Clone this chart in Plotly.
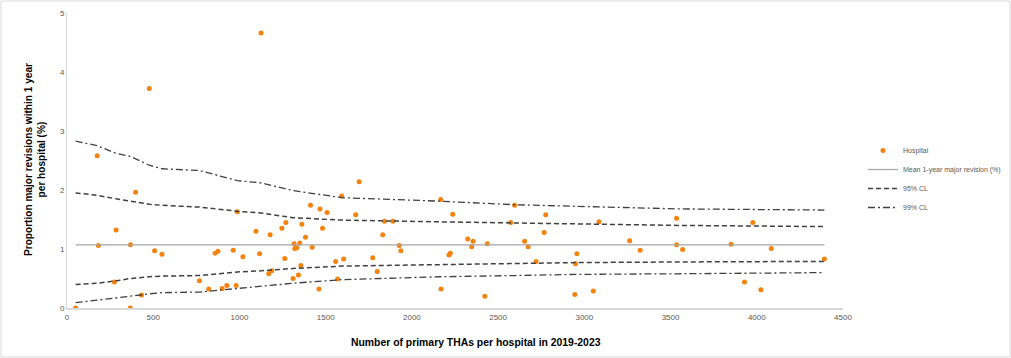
import plotly.graph_objects as go

# Hospital data: number of primary THAs and proportion major revisions (%)
hosp_n = [50, 175, 182, 275, 285, 368, 367, 398, 432, 477, 508, 551, 768, 822, 859, 875,
          900, 927, 964, 981, 987, 1020, 1096, 1117, 1125, 1170, 1178, 1187, 1246, 1263,
          1269, 1311, 1317, 1321, 1333, 1342, 1350, 1356, 1362, 1383, 1412, 1422, 1461,
          1467, 1482, 1508, 1558, 1569, 1593, 1604, 1674, 1694, 1773, 1799, 1831, 1841,
          1890, 1927, 1936, 2167, 2169, 2215, 2223, 2237, 2324, 2347, 2355, 2423, 2437,
          2573, 2596, 2654, 2674, 2720, 2767, 2776, 2945, 2949, 2957, 3052, 3085, 3263,
          3324, 3535, 3535, 3570, 3851, 3929, 3977, 4024, 4084, 4392]
hosp_pct = [0.00, 2.58, 1.06, 0.44, 1.32, 1.07, 0.00, 1.96, 0.22, 3.72, 0.97, 0.91, 0.46,
            0.32, 0.93, 0.96, 0.33, 0.38, 0.98, 0.38, 1.63, 0.87, 1.30, 0.92, 4.66, 0.58,
            1.24, 0.63, 1.35, 0.84, 1.45, 0.50, 1.09, 1.01, 1.02, 0.56, 1.10, 0.72, 1.42,
            1.20, 1.74, 1.03, 0.32, 1.68, 1.35, 1.62, 0.79, 0.49, 1.90, 0.83, 1.58, 2.14,
            0.85, 0.62, 1.24, 1.47, 1.47, 1.06, 0.97, 1.84, 0.32, 0.90, 0.93, 1.59, 1.17,
            1.04, 1.13, 0.20, 1.09, 1.45, 1.74, 1.13, 1.04, 0.79, 1.28, 1.58, 0.23, 0.75,
            0.92, 0.29, 1.46, 1.14, 0.98, 1.52, 1.07, 0.99, 1.08, 0.44, 1.45, 0.31, 1.01,
            0.83]

mean_x = [50, 4392]
mean_y = [1.07, 1.07]

# Control limits
cl_x = [50, 175, 285, 368, 477, 551, 768, 987, 1125, 1311, 1593, 2167, 2596, 2957, 3540, 4392]
up95 = [1.95, 1.91, 1.85, 1.81, 1.76, 1.74, 1.71, 1.64, 1.61, 1.53, 1.49, 1.46, 1.44, 1.42, 1.40, 1.38]
lo95 = [0.40, 0.42, 0.46, 0.50, 0.53, 0.54, 0.55, 0.61, 0.63, 0.67, 0.71, 0.74, 0.75, 0.77, 0.78, 0.79]
up99 = [2.83, 2.75, 2.62, 2.57, 2.42, 2.36, 2.33, 2.16, 2.12, 1.99, 1.87, 1.81, 1.75, 1.72, 1.68, 1.66]
lo99 = [0.09, 0.13, 0.17, 0.20, 0.24, 0.26, 0.27, 0.33, 0.37, 0.42, 0.48, 0.53, 0.55, 0.57, 0.58, 0.60]

x_ticks = [0, 500, 1000, 1500, 2000, 2500, 3000, 3500, 4000, 4500]
y_ticks = [0, 1, 2, 3, 4, 5]

W, H = 1011, 358
ML, MR, MT, MB = 67, 168, 13, 50
PW, PH = W - ML - MR, H - MT - MB

fig = go.Figure()
fig.add_trace(go.Scatter(x=hosp_n, y=hosp_pct, mode="markers", name="Hospital",
                         marker=dict(color="#F5820D", size=5)))
fig.add_trace(go.Scatter(x=mean_x, y=mean_y, mode="lines", name="Mean 1-year major revision (%)",
                         line=dict(color="#A6A6A6", width=1.2)))
fig.add_trace(go.Scatter(x=cl_x, y=up95, mode="lines", name="95% CL", legendgroup="95",
                         line=dict(color="#404040", width=1.5, dash="5px,3px")))
fig.add_trace(go.Scatter(x=cl_x, y=lo95, mode="lines", name="95% CL", legendgroup="95",
                         showlegend=False, line=dict(color="#404040", width=1.5, dash="5px,3px")))
fig.add_trace(go.Scatter(x=cl_x, y=up99, mode="lines", name="99% CL", legendgroup="99",
                         line=dict(color="#404040", width=1.3, dash="7px,3px,2px,3px")))
fig.add_trace(go.Scatter(x=cl_x, y=lo99, mode="lines", name="99% CL", legendgroup="99",
                         showlegend=False, line=dict(color="#404040", width=1.3, dash="7px,3px,2px,3px")))

fig.update_layout(
    width=W, height=H,
    margin=dict(l=ML, r=MR, t=MT, b=MB, autoexpand=False),
    paper_bgcolor="white", plot_bgcolor="white",
    font=dict(family="Liberation Sans", color="#595959", size=8),
    showlegend=True,
    legend=dict(x=(863 - ML) / PW, y=(H - MB - 136) / PH, xanchor="left", yanchor="top",
                font=dict(size=7, color="#595959"), itemwidth=30, tracegroupgap=0,
                bgcolor="rgba(0,0,0,0)"),
    xaxis=dict(range=[0, 4500], tickvals=x_ticks, showgrid=False, zeroline=False,
               showline=True, linecolor="#D9D9D9", linewidth=2, ticks="",
               tickfont=dict(size=8, color="#595959")),
    yaxis=dict(range=[0, 5], tickvals=y_ticks, showgrid=False, zeroline=False,
               showline=True, linecolor="#D9D9D9", linewidth=1, ticks="",
               tickfont=dict(size=8, color="#595959")),
    annotations=[
        dict(text="<b>Number of primary THAs per hospital in 2019-2023</b>", xref="paper", yref="paper",
             x=(476 - ML) / PW, y=-(342 - (H - MB)) / PH, xanchor="center", yanchor="middle",
             showarrow=False, font=dict(size=10.4, color="black", family="Liberation Sans")),
        dict(text="<b>Proportion major revisions within 1 year<br>per hospital (%)</b>", xref="paper", yref="paper",
             x=(35 - ML) / PW, y=(H - MB - 160) / PH, xanchor="center", yanchor="middle", textangle=-90,
             showarrow=False, font=dict(size=10.1, color="black", family="Liberation Sans")),
    ],
    shapes=[dict(type="rect", xref="paper", yref="paper",
                 x0=-(ML - 1) / PW, x1=1 + (MR - 1) / PW, y0=-(MB - 1) / PH, y1=1 + (MT - 1) / PH,
                 line=dict(color="#D9D9D9", width=1), fillcolor="rgba(0,0,0,0)", layer="below")],
)

fig.write_html("out.html", config={"displayModeBar": False},
               post_script="document.body.style.margin='0';document.documentElement.style.overflow='hidden';")
